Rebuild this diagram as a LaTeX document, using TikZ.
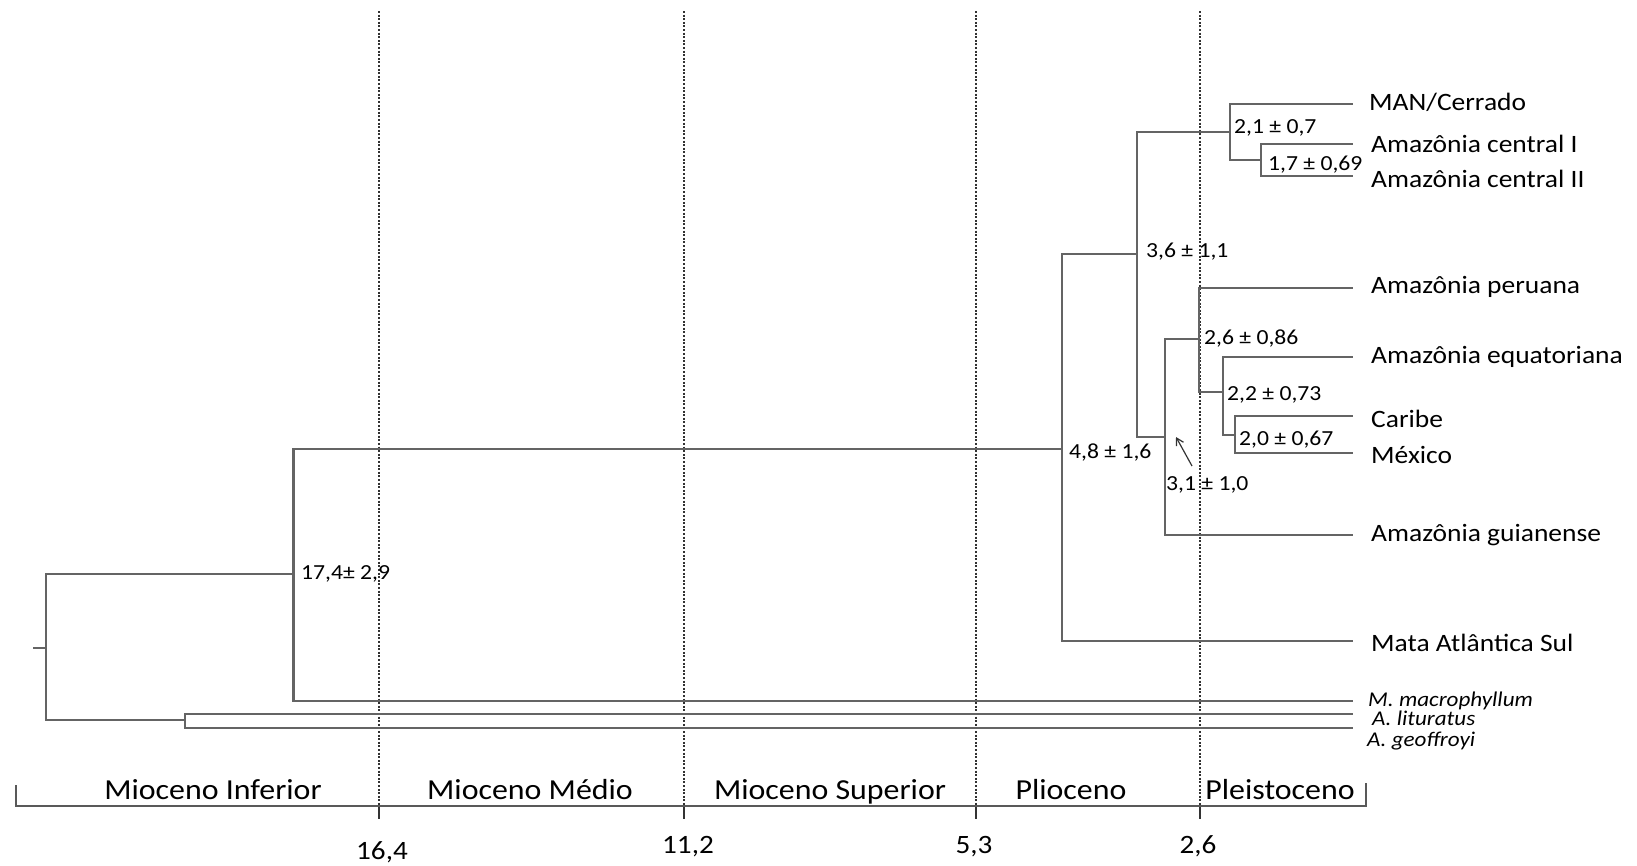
\documentclass[tikz,border=0pt]{standalone}
\usepackage{fontspec}
\setmainfont{Carlito}[FakeStretch=1.1]
\usetikzlibrary{arrows.meta}
\definecolor{treegray}{RGB}{100,100,100}
\definecolor{dashgray}{RGB}{50,50,50}
\begin{document}
\begin{tikzpicture}[x=1pt,y=-1pt,
  br/.style={draw=treegray, line width=2.3pt, line cap=rect},
  leaf/.style={anchor=base west, inner sep=0pt, font=\fontsize{25}{30}\selectfont},
  spec/.style={anchor=base west, inner sep=0pt, font=\fontsize{21}{24}\selectfont\itshape},
  age/.style={anchor=base west, inner sep=0pt, font=\fontsize{21.5}{26}\selectfont},
  epoch/.style={anchor=base, inner sep=0pt, font=\fontsize{29}{34}\selectfont},
  tnum/.style={anchor=base, inner sep=0pt, font=\fontsize{26.5}{30}\selectfont},
  epochline/.style={draw=dashgray, line width=1.3pt, dash pattern=on 2pt off 1.6pt},
  axisline/.style={draw=black!65, line width=2pt}
]
\useasboundingbox (0,0) rectangle (1637,865);

% ---------- epoch boundaries ----------
\foreach \n/\x in {a/379,b/684,c/976,d/1200}{
  \coordinate (top\n) at (\x,11);
  \coordinate (ax\n) at (\x,806);
  \coordinate (tk\n) at (\x,819);
  \draw[epochline] (top\n) -- (ax\n);
  \draw[draw=black!80, line width=1.1pt] (ax\n) -- (tk\n);
}

% ---------- axis ----------
\coordinate (axL0) at (16,785);
\coordinate (axL) at (16,806);
\coordinate (axR) at (1366,806);
\coordinate (axR0) at (1366,783);
\draw[axisline] (axL0) -- (axL) -- (axR) -- (axR0);

\node[epoch] (e1) at (213,799) {Mioceno Inferior};
\node[epoch] (e2) at (530,799) {Mioceno Médio};
\node[epoch] (e3) at (830,799) {Mioceno Superior};
\node[epoch] (e4) at (1071,799) {Plioceno};
\node[epoch] (e5) at (1280,799) {Pleistoceno};

\node[tnum] (t1) at (382,859) {16,4};
\node[tnum] (t2) at (688,853) {11,2};
\node[tnum] (t3) at (974,853) {5,3};
\node[tnum] (t4) at (1198,853) {2,6};

% ---------- tree nodes ----------
\coordinate (stub) at (34,648);
\coordinate (root) at (46,648);
\coordinate (n174) at (293.5,574);
\coordinate (nout) at (185,720);
\coordinate (n48) at (1062,449);
\coordinate (n36) at (1137,254);
\coordinate (n21) at (1230,132);
\coordinate (n17) at (1261,160);
\coordinate (n31) at (1165,437);
\coordinate (n26) at (1199,339);
\coordinate (n22) at (1223,392);
\coordinate (n20) at (1235,435);

% leaf ends
\coordinate (manE) at (1352,104);
\coordinate (aciE) at (1352,144);
\coordinate (aciiE) at (1352,176);
\coordinate (peruE) at (1352,288);
\coordinate (equE) at (1352,357);
\coordinate (carE) at (1352,416);
\coordinate (mexE) at (1352,453);
\coordinate (guiE) at (1352,535);
\coordinate (mataE) at (1352,641);
\coordinate (macE) at (1352,701);
\coordinate (litE) at (1352,714);
\coordinate (geoE) at (1352,728);

% ---------- branches ----------
\draw[br] (stub) -- (root);
\draw[br] (root) |- (n174);
\draw[br] (root) |- (nout);
\draw[br] (nout) |- (litE);
\draw[br] (nout) |- (geoE);
\draw[br] (n174) |- (n48);
\draw[br] (n174) |- (macE);
\draw[br] (n48) |- (n36);
\draw[br] (n48) |- (mataE);
\draw[br] (n36) |- (n21);
\draw[br] (n36) |- (n31);
\draw[br] (n21) |- (manE);
\draw[br] (n21) |- (n17);
\draw[br] (n17) |- (aciE);
\draw[br] (n17) |- (aciiE);
\draw[br] (n31) |- (n26);
\draw[br] (n31) |- (guiE);
\draw[br] (n26) |- (peruE);
\draw[br] (n26) |- (n22);
\draw[br] (n22) |- (equE);
\draw[br] (n22) |- (n20);
\draw[br] (n20) |- (carE);
\draw[br] (n20) |- (mexE);

% ---------- leaf labels ----------
\node[leaf] (lman) at (1369,110) {MAN/Cerrado};
\node[leaf] (laci) at (1371,152) {Amazônia central I};
\node[leaf] (laci2) at (1371,187) {Amazônia central II};
\node[leaf] (lperu) at (1371,293) {Amazônia peruana};
\node[leaf] (lequ) at (1371,363) {Amazônia equatoriana};
\node[leaf] (lcar) at (1371,427) {Caribe};
\node[leaf] (lmex) at (1371,463) {México};
\node[leaf] (lgui) at (1371,541) {Amazônia guianense};
\node[leaf] (lmata) at (1371,651) {Mata Atlântica Sul};
\node[spec] (lmac) at (1368,706.5) {M. macrophyllum};
\node[spec] (llit) at (1372,725) {A. lituratus};
\node[spec] (lgeo) at (1367,746) {A. geoffroyi};

% ---------- node ages ----------
\node[age] (a174) at (301,579) {17,4± 2,9};
\node[age] (a48) at (1069,458) {4,8 ± 1,6};
\node[age] (a36) at (1146,257) {3,6 ± 1,1};
\node[age] (a21) at (1234,133) {2,1 ± 0,7};
\node[age] (a17) at (1268,170) {1,7 ± 0,69};
\node[age] (a26) at (1204,344) {2,6 ± 0,86};
\node[age] (a22) at (1227,400) {2,2 ± 0,73};
\node[age] (a20) at (1239,445) {2,0 ± 0,67};
\node[age] (a31) at (1166,490) {3,1 ± 1,0};

\coordinate (arrS) at (1192,466);
\coordinate (arrT) at (1176,437);
\draw[draw=black!80, line width=1.2pt, -{Straight Barb[length=7pt,width=8pt]}] (arrS) -- (arrT);
\end{tikzpicture}
\end{document}
